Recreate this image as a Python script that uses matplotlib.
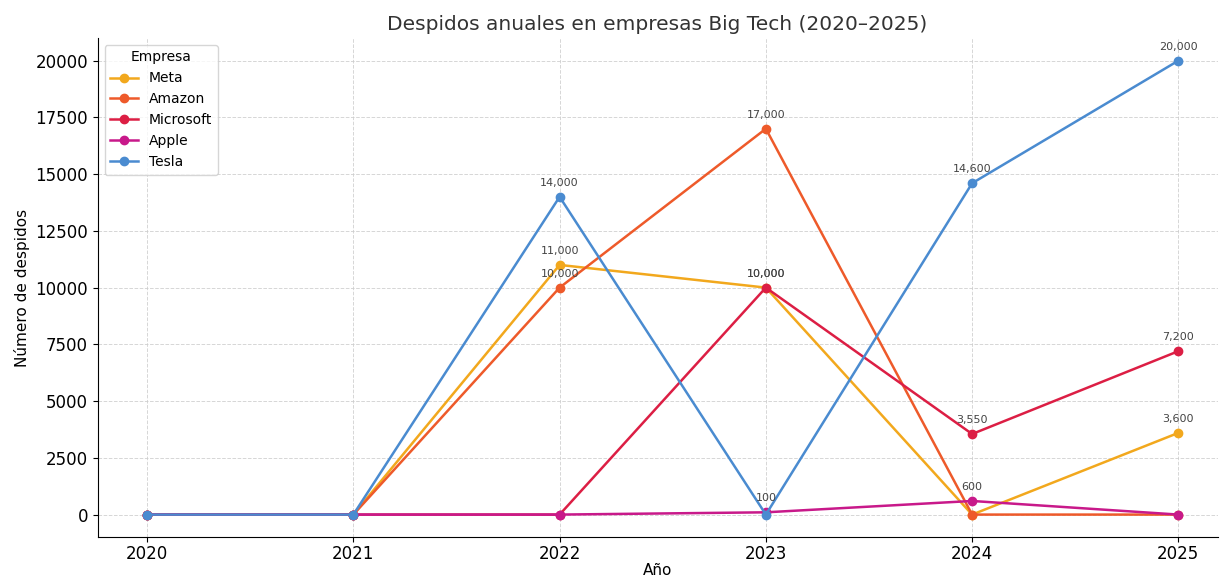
import matplotlib.pyplot as plt

years = [2020, 2021, 2022, 2023, 2024, 2025]
empresas = ["Meta", "Amazon", "Microsoft", "Apple", "Tesla"]
meta = [0, 0, 11000, 10000, 0, 3600]
amazon = [0, 0, 10000, 17000, 0, 0]
microsoft = [0, 0, 0, 10000, 3550, 7200]
apple = [0, 0, 0, 100, 600, 0]
tesla = [0, 0, 14000, 0, 14600, 20000]
colores = ["#F2A81D", "#EE5A2A", "#DC1E44", "#C8198A", "#4A8BD0"]

series = [meta, amazon, microsoft, apple, tesla]

fig, ax = plt.subplots(figsize=(12.2, 5.84), dpi=100)
fig.subplots_adjust(left=0.08, right=0.998, top=0.935, bottom=0.08)

for nombre, vals, col in zip(empresas, series, colores):
    ax.plot(years, vals, marker='o', markersize=6, linewidth=1.8, color=col, label=nombre)
    for x, y in zip(years, vals):
        if y > 0:
            ax.annotate(f"{y:,}", (x, y), textcoords='offset points', xytext=(0, 8),
                        ha='center', fontsize=8, color='#444444')

ax.set_xlim(2019.76, 2025.19)
ax.set_ylim(-1000, 21000)
ax.set_xticks(years)
ax.tick_params(labelsize=12)
ax.tick_params(axis='x', pad=2)
ax.grid(True, linestyle='--', linewidth=0.7, color='#cccccc', alpha=0.8)
ax.spines['top'].set_visible(False)
ax.spines['right'].set_visible(False)

ax.set_title("Despidos anuales en empresas Big Tech (2020–2025)", fontsize=14.5, color='#333333')
ax.set_xlabel("Año", fontsize=11, labelpad=0)
ax.set_ylabel("Número de despidos", fontsize=11)
ax.legend(title="Empresa", loc='upper left', fontsize=10, title_fontsize=10)

fig.savefig("out.png")
